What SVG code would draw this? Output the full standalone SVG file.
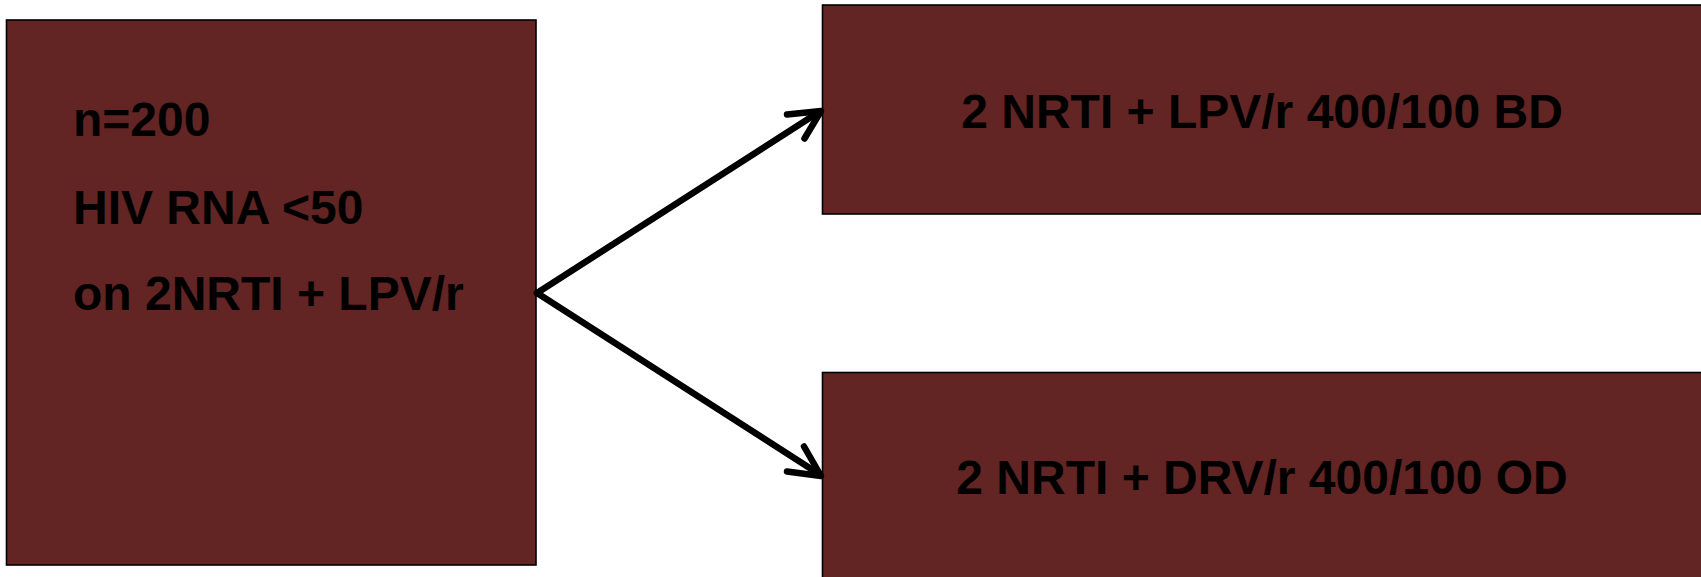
<svg xmlns="http://www.w3.org/2000/svg" width="1701" height="577" viewBox="0 0 1701 577">
<style>
.box{fill:#632424;stroke:#000;stroke-width:1.6}
.t{font-family:"Liberation Sans",Arial,sans-serif;font-weight:bold;font-size:48px;fill:#000}
.c{fill:none;stroke:#000;stroke-width:6.5;stroke-linecap:round;stroke-linejoin:round}
</style>
<rect width="1701" height="577" fill="#fff"/>
<g id="node-start">
<rect class="box" x="6.5" y="20" width="529.5" height="545"/>
<text class="t" x="73" y="136">n=200</text>
<text class="t" x="73" y="223.5">HIV RNA &lt;50</text>
<text class="t" x="73" y="310">on 2NRTI + LPV/r</text>
</g>
<g id="node-lpv">
<rect class="box" x="822.5" y="5" width="880" height="209"/>
<text class="t" x="1262" y="128" text-anchor="middle">2 NRTI + LPV/r 400/100 BD</text>
</g>
<g id="node-drv">
<rect class="box" x="822.5" y="372.5" width="880" height="210"/>
<text class="t" x="1262" y="494" text-anchor="middle">2 NRTI + DRV/r 400/100 OD</text>
</g>
<g id="connectors">
<path class="c" d="M537,293 L819,112"/>
<path class="c" d="M787,114.5 L821,111 L804.5,138.5"/>
<path class="c" d="M537,293 L819,474"/>
<path class="c" d="M787,471.5 L821,476 L804,446.5"/>
</g>
</svg>
